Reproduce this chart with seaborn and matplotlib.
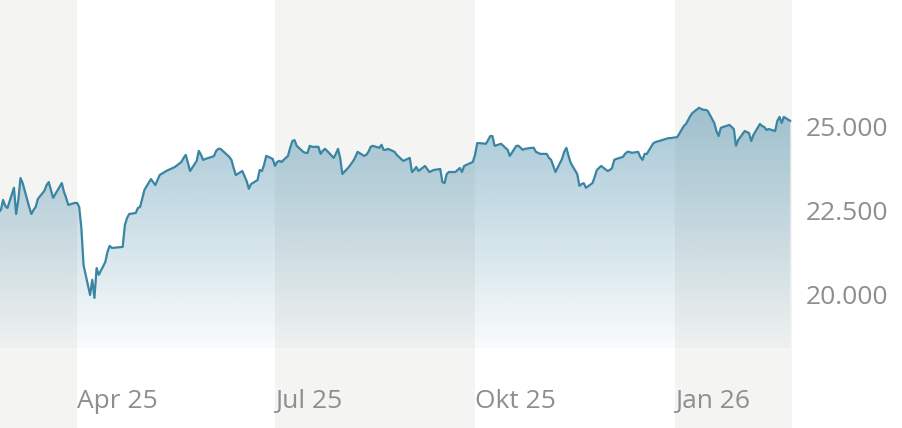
################ imports ################

import numpy as np
import pandas as pd
import matplotlib.pyplot as plt
import matplotlib.dates as mdates
from matplotlib.colors import to_rgb
import seaborn as sns

################ data ################

# daily closes, one list per month
feb25 = [22470, 22530, 22830, 22650, 22590]
mar25 = [23190, 22410, 22830, 23480, 23330, 22620, 22410, 22530, 22620, 22860,
         23100, 23270, 23360, 23130, 22890, 23220, 23330, 23070, 22890, 22680, 22740]
apr25 = [22740, 22620, 21990, 20890, 20000, 20450, 19910, 20800, 20600, 20980,
         21280, 21460, 21400, 21430, 22080, 22290, 22410, 22440, 22590, 22620]
may25 = [23130, 23450, 23360, 23270, 23420, 23570, 23690, 23720, 23750, 23780,
         23810, 23960, 24080, 24170, 23930, 23690, 23990, 24290, 24170, 24020, 24050]
jun25 = [24110, 24140, 24290, 24350, 24350, 24170, 24110, 24020, 23780, 23570,
         23690, 23540, 23390, 23160, 23300, 23420, 23720, 23690, 23870, 24140, 24050]
jul25 = [23840, 23960, 23990, 23960, 24140, 24380, 24580, 24610, 24440, 24260,
         24230, 24230, 24440, 24410, 24410, 24200, 24290, 24350, 24290, 24080,
         24200, 24350, 24080]
aug25 = [23600, 23810, 23900, 23990, 24110, 24260, 24140, 24170, 24260, 24410,
         24440, 24380, 24470, 24320, 24320, 24350, 24260, 24170, 24110, 24050, 23990]
sep25 = [24080, 23660, 23720, 23810, 23690, 23840, 23750, 23660, 23690, 23720,
         23750, 23360, 23330, 23600, 23660, 23660, 23720, 23780, 23660, 23840,
         23930, 23960]
oct25 = [24170, 24520, 24520, 24500, 24610, 24730, 24730, 24440, 24500, 24440,
         24380, 24320, 24140, 24440, 24440, 24380, 24320, 24350, 24380, 24380,
         24260, 24230, 24200]
nov25 = [24200, 24080, 24020, 23840, 23660, 24050, 24260, 24380, 24140, 23930,
         23600, 23250, 23300, 23330, 23190, 23330, 23510, 23720, 23780, 23840]
dec25 = [23690, 23720, 23780, 24020, 24050, 24110, 24200, 24260, 24260, 24230,
         24260, 24110, 24020, 24200, 24200, 24520, 24550, 24670, 24670]
jan26 = [24700, 25030, 25090, 25210, 25330, 25420, 25570, 25540, 25510, 25510,
         25480, 25120, 24880, 24730, 24970, 25000, 25060, 25000, 24940, 24440, 24610]
feb26 = [24880, 24850, 24820, 24580, 24760, 25090, 25030, 25000, 24910, 24940,
         24880, 25180, 25300, 25120, 25300, 25180]

# exchange holidays (no trading)
holidays = ['2025-04-18', '2025-04-21', '2025-05-01', '2025-12-24', '2025-12-25',
            '2025-12-26', '2025-12-31', '2026-01-01']

quarter_starts = ['2025-04-01', '2025-07-01', '2025-10-01', '2026-01-01']
x_labels = ['Apr 25', 'Jul 25', 'Okt 25', 'Jan 26']
y_ticks = [20000, 22500, 25000]
y_labels = ['20.000', '22.500', '25.000']

dates = pd.bdate_range('2025-02-24', '2026-02-23', freq='C', holidays=holidays)
values = (feb25 + mar25 + apr25 + may25 + jun25 + jul25 + aug25 + sep25
          + oct25 + nov25 + dec25 + jan26 + feb26)
df = pd.DataFrame({'date': dates, 'close': values})

################ style ################

sns.set_style('white')
plt.rcParams['font.family'] = ['Open Sans', 'DejaVu Sans']

line_color = '#3a84a4'
band_color = '#f4f4f2'
text_color = '#8e8e8e'

x_start = pd.Timestamp('2025-02-24 14:00')
x_end = pd.Timestamp('2026-02-23 18:00')
fill_base = 18420
y_min, y_max = 16040, 28780

fig = plt.figure(figsize=(9.02, 4.28), dpi=100)
ax = fig.add_axes([0, 0, 792 / 902, 1])

################ quarter bands ################

edges = [x_start] + [pd.Timestamp(d) for d in quarter_starts] + [x_end]
for i in range(0, len(edges) - 1, 2):
    ax.axvspan(edges[i], edges[i + 1], color=band_color, lw=0, zorder=0)

################ gradient area ################

area = ax.fill_between(df['date'], df['close'], fill_base, facecolor='none', lw=0)
grad_top = 25510
n = 256
levels = np.linspace(fill_base, y_max, n)
alpha = 0.03 + 0.43 * (levels - fill_base) / (grad_top - fill_base)
rgba = np.zeros((n, 1, 4))
rgba[:, 0, :3] = to_rgb(line_color)
rgba[:, 0, 3] = np.clip(alpha, 0, 1)
img = ax.imshow(rgba, aspect='auto', origin='lower', zorder=1,
                extent=[mdates.date2num(x_start), mdates.date2num(x_end), fill_base, y_max])
img.set_clip_path(area.get_paths()[0], transform=ax.transData)

################ line ################

sns.lineplot(data=df, x='date', y='close', color=line_color, linewidth=1.6, ax=ax, zorder=2)

################ axes ################

ax.set_xlim(x_start, x_end)
ax.set_ylim(y_min, y_max)
ax.set_xlabel('')
ax.set_ylabel('')
for s in ax.spines.values():
    s.set_visible(False)

ax.yaxis.tick_right()
ax.set_yticks(y_ticks, y_labels)
ax.tick_params(axis='y', length=0, pad=10, labelsize=19, labelcolor=text_color)

ax.set_xticks([pd.Timestamp(d) for d in quarter_starts], x_labels)
ax.tick_params(axis='x', length=0, pad=-28, labelsize=19, labelcolor=text_color)
for lbl in ax.get_xticklabels():
    lbl.set_horizontalalignment('left')

fig.savefig('out.png', dpi=100, facecolor='white')
